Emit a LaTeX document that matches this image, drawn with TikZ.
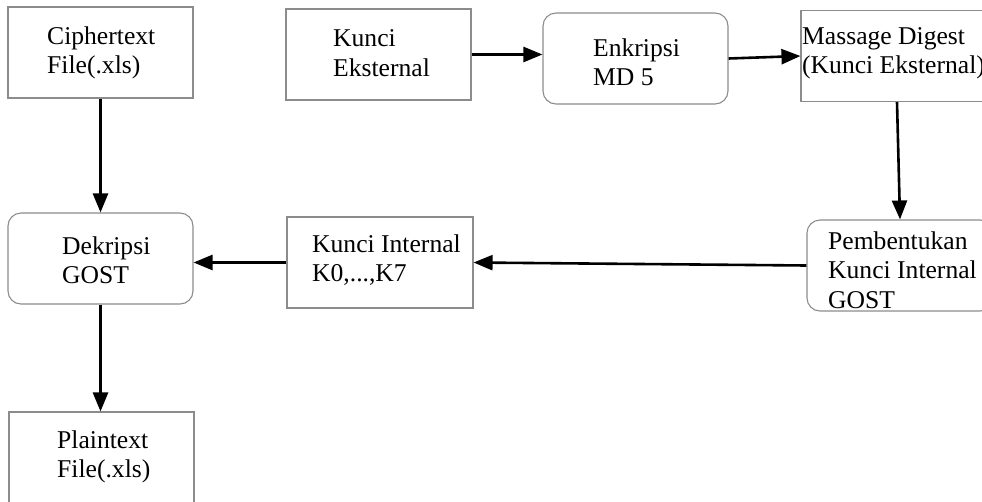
\documentclass[tikz,border=0pt]{standalone}
\usepackage{fontspec}
\setmainfont{Liberation Serif}
\usetikzlibrary{arrows.meta}
\begin{document}
\begin{tikzpicture}[x=1pt,y=-1pt,
  box/.style={draw=black!45, line width=1.1pt, minimum width=#1, minimum height=91pt, inner sep=0pt},
  box/.default=185pt,
  rbox/.style={box=#1, rounded corners=13pt},
  rbox/.default=185pt,
  txt/.style={anchor=west, align=left, inner sep=0pt, font=\fontsize{25.6}{29.5}\selectfont},
  arr/.style={line width=2.6pt, -{Triangle[length=19pt,width=15pt]}}
]
\useasboundingbox (0,0) rectangle (982,501);
\clip (0,0) rectangle (982,501);
% boxes
\node[box] (c) at (100.5,52.5) {};
\node[box] (ke) at (378.5,54.5) {};
\node[rbox] (en) at (635.5,58.5) {};
\node[box=192pt] (m) at (897,56) {};
\node[rbox] (d) at (100.5,258.5) {};
\node[box=186pt] (ki) at (380,262.5) {};
\node[rbox=186pt] (p) at (900,265.5) {};
\node[box] (pl) at (101.5,457.5) {};
% texts
\node[txt] (tc) at (47,53) {Ciphertext\\File(.xls)};
\node[txt] (tke) at (333,53) {Kunci\\Eksternal};
\node[txt] (ten) at (593,62) {Enkripsi\\MD 5};
\node[txt] (tm) at (802,53) {Massage Digest\\(Kunci Eksternal)};
\node[txt] (td) at (62,260) {Dekripsi\\GOST};
\node[txt] (tki) at (312,260) {Kunci Internal\\K0,...,K7};
\node[txt] (tp) at (828,270) {Pembentukan\\Kunci Internal\\GOST};
\node[txt] (tpl) at (57,457) {Plaintext\\File(.xls)};
% connectors
\draw[arr] (c.south) -- (c.south |- d.north);
\draw[arr] (ke.east) -- (ke.east -| en.west);
\draw[arr] (en.east) -- (m.west);
\draw[arr] (m.south) -- (p.north);
\draw[arr] (p.west) -- (ki.east);
\draw[arr] (ki.west) -- (ki.west -| d.east);
\draw[arr] (d.south) -- (d.south |- pl.north);
\end{tikzpicture}
\end{document}
